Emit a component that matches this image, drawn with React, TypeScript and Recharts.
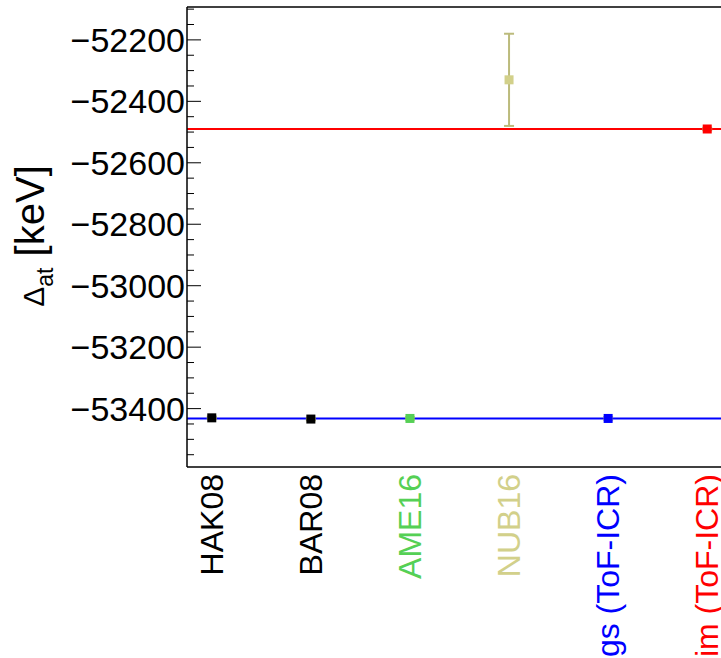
import React from "react";
import {
  ComposedChart,
  Scatter,
  XAxis,
  YAxis,
  ReferenceLine,
  ErrorBar,
  Label,
} from "recharts";

// measurements (keV), index = position along x
const labels = ["HAK08", "BAR08", "AME16", "NUB16", "gs (ToF-ICR)", "im (ToF-ICR)"];
const labelColors = ["#000000", "#000000", "#55d055", "#d2d08a", "#0000ff", "#ff0000"];
const massExcess = [-53430, -53434, -53432, -52330, -53432, -52490];
const uncertainty = [4, 4, 4, 150, 4, 4];

const gsLine = -53432;
const imLine = -52490;

const yTicks = [
  -53550, -53500, -53450, -53400, -53350, -53300, -53250, -53200, -53150, -53100,
  -53050, -53000, -52950, -52900, -52850, -52800, -52750, -52700, -52650, -52600,
  -52550, -52500, -52450, -52400, -52350, -52300, -52250, -52200, -52150, -52100,
];
const yDomain = [-53590, -52093];

const FONT = "'Liberation Sans', Arial, Helvetica, sans-serif";

const points = labels.map((name, i) => ({
  x: i,
  y: massExcess[i],
  err: uncertainty[i],
  color: labelColors[i],
  name,
}));

const Square = (props: any) => {
  const { cx, cy, payload } = props;
  return (
    <rect x={cx - 4.5} y={cy - 4.5} width={9} height={9} fill={payload.color} />
  );
};

const YTick = (props: any) => {
  const { x, y, payload } = props;
  const major = payload.value % 200 === 0;
  return (
    <g>
      <line x1={x} x2={x + (major ? 14 : 7)} y1={y} y2={y} stroke="#000" strokeWidth={1} />
      {major && (
        <text x={x - 2} y={y + 12} textAnchor="end" fontSize={34} fontFamily={FONT} fill="#000">
          {"\u2212" + Math.abs(payload.value)}
        </text>
      )}
    </g>
  );
};

const XTick = (props: any) => {
  const { x, payload } = props;
  const i = payload.value;
  if (i < 0 || i >= labels.length) return null;
  return (
    <text
      x={x + 11}
      y={474}
      transform={`rotate(-90, ${x + 11}, 474)`}
      textAnchor="end"
      fontSize={32}
      fontFamily={FONT}
      fill={labelColors[i]}
    >
      {labels[i]}
    </text>
  );
};

export default function App() {
  return (
    <div
      style={{
        position: "fixed",
        left: 0,
        top: 0,
        width: 721,
        height: 658,
        overflow: "hidden",
        background: "#fff",
      }}
    >
      <ComposedChart
        width={732}
        height={658}
        data={points}
        margin={{ top: 7, right: 0, bottom: 0, left: 0 }}
      >
        <XAxis
          dataKey="x"
          type="number"
          domain={[-0.25, 5.25]}
          ticks={[0, 1, 2, 3, 4, 5]}
          height={191}
          tickLine={false}
          tick={<XTick />}
          axisLine={{ stroke: "#000", strokeWidth: 1.5 }}
          interval={0}
        />
        <YAxis
          dataKey="y"
          type="number"
          domain={yDomain}
          ticks={yTicks}
          width={187}
          tickSize={0}
          tickMargin={0}
          tickLine={false}
          tick={<YTick />}
          interval={0}
          axisLine={{ stroke: "#000", strokeWidth: 1.5 }}
        >
          <Label
            content={() => (
              <text
                x={44}
                y={236}
                transform="rotate(-90, 44, 236)"
                textAnchor="middle"
                fontSize={40}
                fontFamily={FONT}
                fill="#000"
              >
                <tspan fontSize={30}>{"\u0394"}</tspan>
                <tspan fontSize={23} dy={9}>at</tspan>
                <tspan dy={-9}> [keV]</tspan>
              </text>
            )}
          />
        </YAxis>
        <ReferenceLine y={yDomain[1]} stroke="#000" strokeWidth={1.5} ifOverflow="visible" />
        <ReferenceLine y={imLine} stroke="#ff0000" strokeWidth={2} />
        <ReferenceLine y={gsLine} stroke="#0000ff" strokeWidth={2} />
        <Scatter dataKey="y" shape={<Square />} isAnimationActive={false}>
          <ErrorBar dataKey="err" direction="y" width={5} stroke="#bcbb7c" strokeWidth={2} />
        </Scatter>
      </ComposedChart>
    </div>
  );
}
